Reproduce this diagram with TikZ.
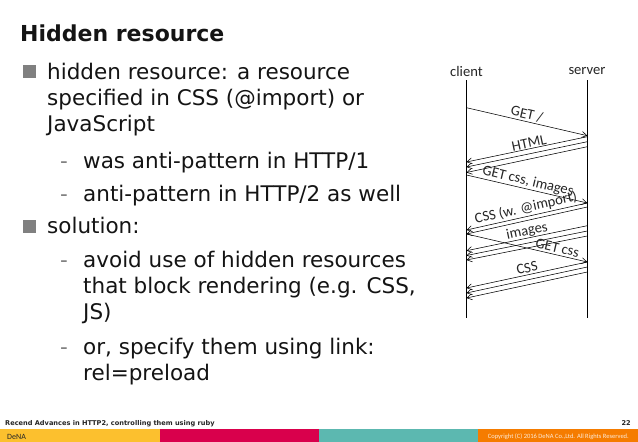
\documentclass[tikz,border=0pt]{standalone}
\usepackage{fontspec}
\setmainfont{DejaVu Sans}
\newfontfamily\carl{Carlito}
\usetikzlibrary{arrows.meta}
\definecolor{bulletgray}{HTML}{808080}
\definecolor{bandy}{HTML}{FCC02E}
\definecolor{bandr}{HTML}{D9004C}
\definecolor{bandt}{HTML}{5CB8B0}
\definecolor{bando}{HTML}{F57C00}
\tikzset{
 x=1pt,y=-1pt,
 body/.style={anchor=base west,inner sep=0pt,font=\fontsize{21.5}{24}\selectfont,text=black!92},
 dashmark/.style={anchor=base west,inner sep=0pt,font=\fontsize{21.5}{24}\selectfont,text=bulletgray},
 bul/.style={fill=bulletgray,minimum size=13pt,inner sep=0pt,draw=none},
 lab/.style={inner sep=0pt,font=\carl\fontsize{14.6}{17}\selectfont,text=black!85},
 life/.style={draw=black,line width=0.8pt},
 msg/.style={draw=black,line width=0.55pt,-{Straight Barb[length=5pt,width=6pt]}},
 band/.style={draw=none,minimum height=13pt,inner sep=0pt,anchor=north west}
}
\begin{document}
\begin{tikzpicture}
\useasboundingbox (0,0) rectangle (638,442);
\fill[white] (0,0) rectangle (638,442);
\node[anchor=base west,inner sep=0pt,font=\bfseries\fontsize{22}{24}\selectfont,text=black!92] (title) at (20,41) {Hidden resource};
\node[bul] (b1) at (29,71) {};
\node[body] (t1) at (47,79) {hidden resource: a resource};
\node[body] (t2) at (47,105) {specified in CSS (@import) or};
\node[body] (t3) at (47,131) {JavaScript};
\node[dashmark] (d1) at (60,168) {-};
\node[body] (t4) at (83,168) {was anti-pattern in HTTP/1};
\node[dashmark] (d2) at (60,201) {-};
\node[body] (t5) at (83,201) {anti-pattern in HTTP/2 as well};
\node[bul] (b2) at (29,226) {};
\node[body] (t6) at (47,233) {solution:};
\node[dashmark] (d3) at (60,267) {-};
\node[body] (t7) at (83,267) {avoid use of hidden resources};
\node[body] (t8) at (83,293) {that block rendering (e.g. CSS,};
\node[body] (t9) at (83,319) {JS)};
\node[dashmark] (d4) at (60,354) {-};
\node[body] (t10) at (83,354) {or, specify them using link:};
\node[body] (t11) at (83,380) {rel=preload};
% sequence
\node[lab] (client) at (466.5,71) {client};
\node[lab] (server) at (587,71) {server};
\coordinate (ct) at (466.5,80); \coordinate (cb) at (466.5,318);
\coordinate (st) at (587.3,80); \coordinate (sb) at (587.3,318);
\draw[life] (ct) -- (cb);
\draw[life] (st) -- (sb);
\foreach \n/\ya/\yb in {a/107.7/135.7, e/175/203, i/234/262}{
 \coordinate (\n1) at (466.5,\ya); \coordinate (\n2) at (587.3,\yb);
 \draw[msg] (\n1) -- (\n2);
}
\foreach \n/\ya/\yb in {b/136.7/162, c/141.7/167, d/146.7/172.5, f/203/230, g/207/234, h/225.7/250.7, j/231/255.5, k/236/260, l/262/288, m/267/293, n/272/298}{
 \coordinate (\n1) at (587.3,\ya); \coordinate (\n2) at (466.5,\yb);
 \draw[msg] (\n1) -- (\n2);
}
\node[lab,rotate=-13] (l1) at (527,114) {GET /};
\node[lab,rotate=12] (l2) at (529,143) {HTML};
\node[lab,rotate=-13.5] (l3) at (528,181.5) {GET css, images};
\node[lab,rotate=12.5] (l4) at (526,208) {CSS (w. @import)};
\node[lab,rotate=12] (l5) at (527,231.5) {images};
\node[lab,rotate=-13] (l6) at (557.5,248) {GET css};
\node[lab,rotate=12] (l7) at (527,268) {CSS};
% footer
\node[anchor=base west,inner sep=0pt,font=\bfseries\fontsize{6.6}{8}\selectfont,text=black!85] (foot) at (5,425) {Recend Advances in HTTP2, controlling them using ruby};
\node[anchor=base east,inner sep=0pt,font=\bfseries\fontsize{6.6}{8}\selectfont,text=black!85] (page) at (631,425) {22};
\node[band,fill=bandy,minimum width=160pt] (by) at (0,429) {};
\node[band,fill=bandr,minimum width=159pt] (br) at (160,429) {};
\node[band,fill=bandt,minimum width=159pt] (bt) at (319,429) {};
\node[band,fill=bando,minimum width=160pt] (bo) at (478,429) {};
\node[anchor=base west,inner sep=0pt,font=\carl\fontsize{8}{9}\selectfont,text=black!85] (logo) at (7,439) {DeNA};
\node[anchor=base east,inner sep=0pt,font=\carl\fontsize{6.5}{8}\selectfont,text=white!85!bando] (copy) at (629,438.5) {Copyright (C) 2016 DeNA Co.,Ltd. All Rights Reserved.};
\end{tikzpicture}
\end{document}
